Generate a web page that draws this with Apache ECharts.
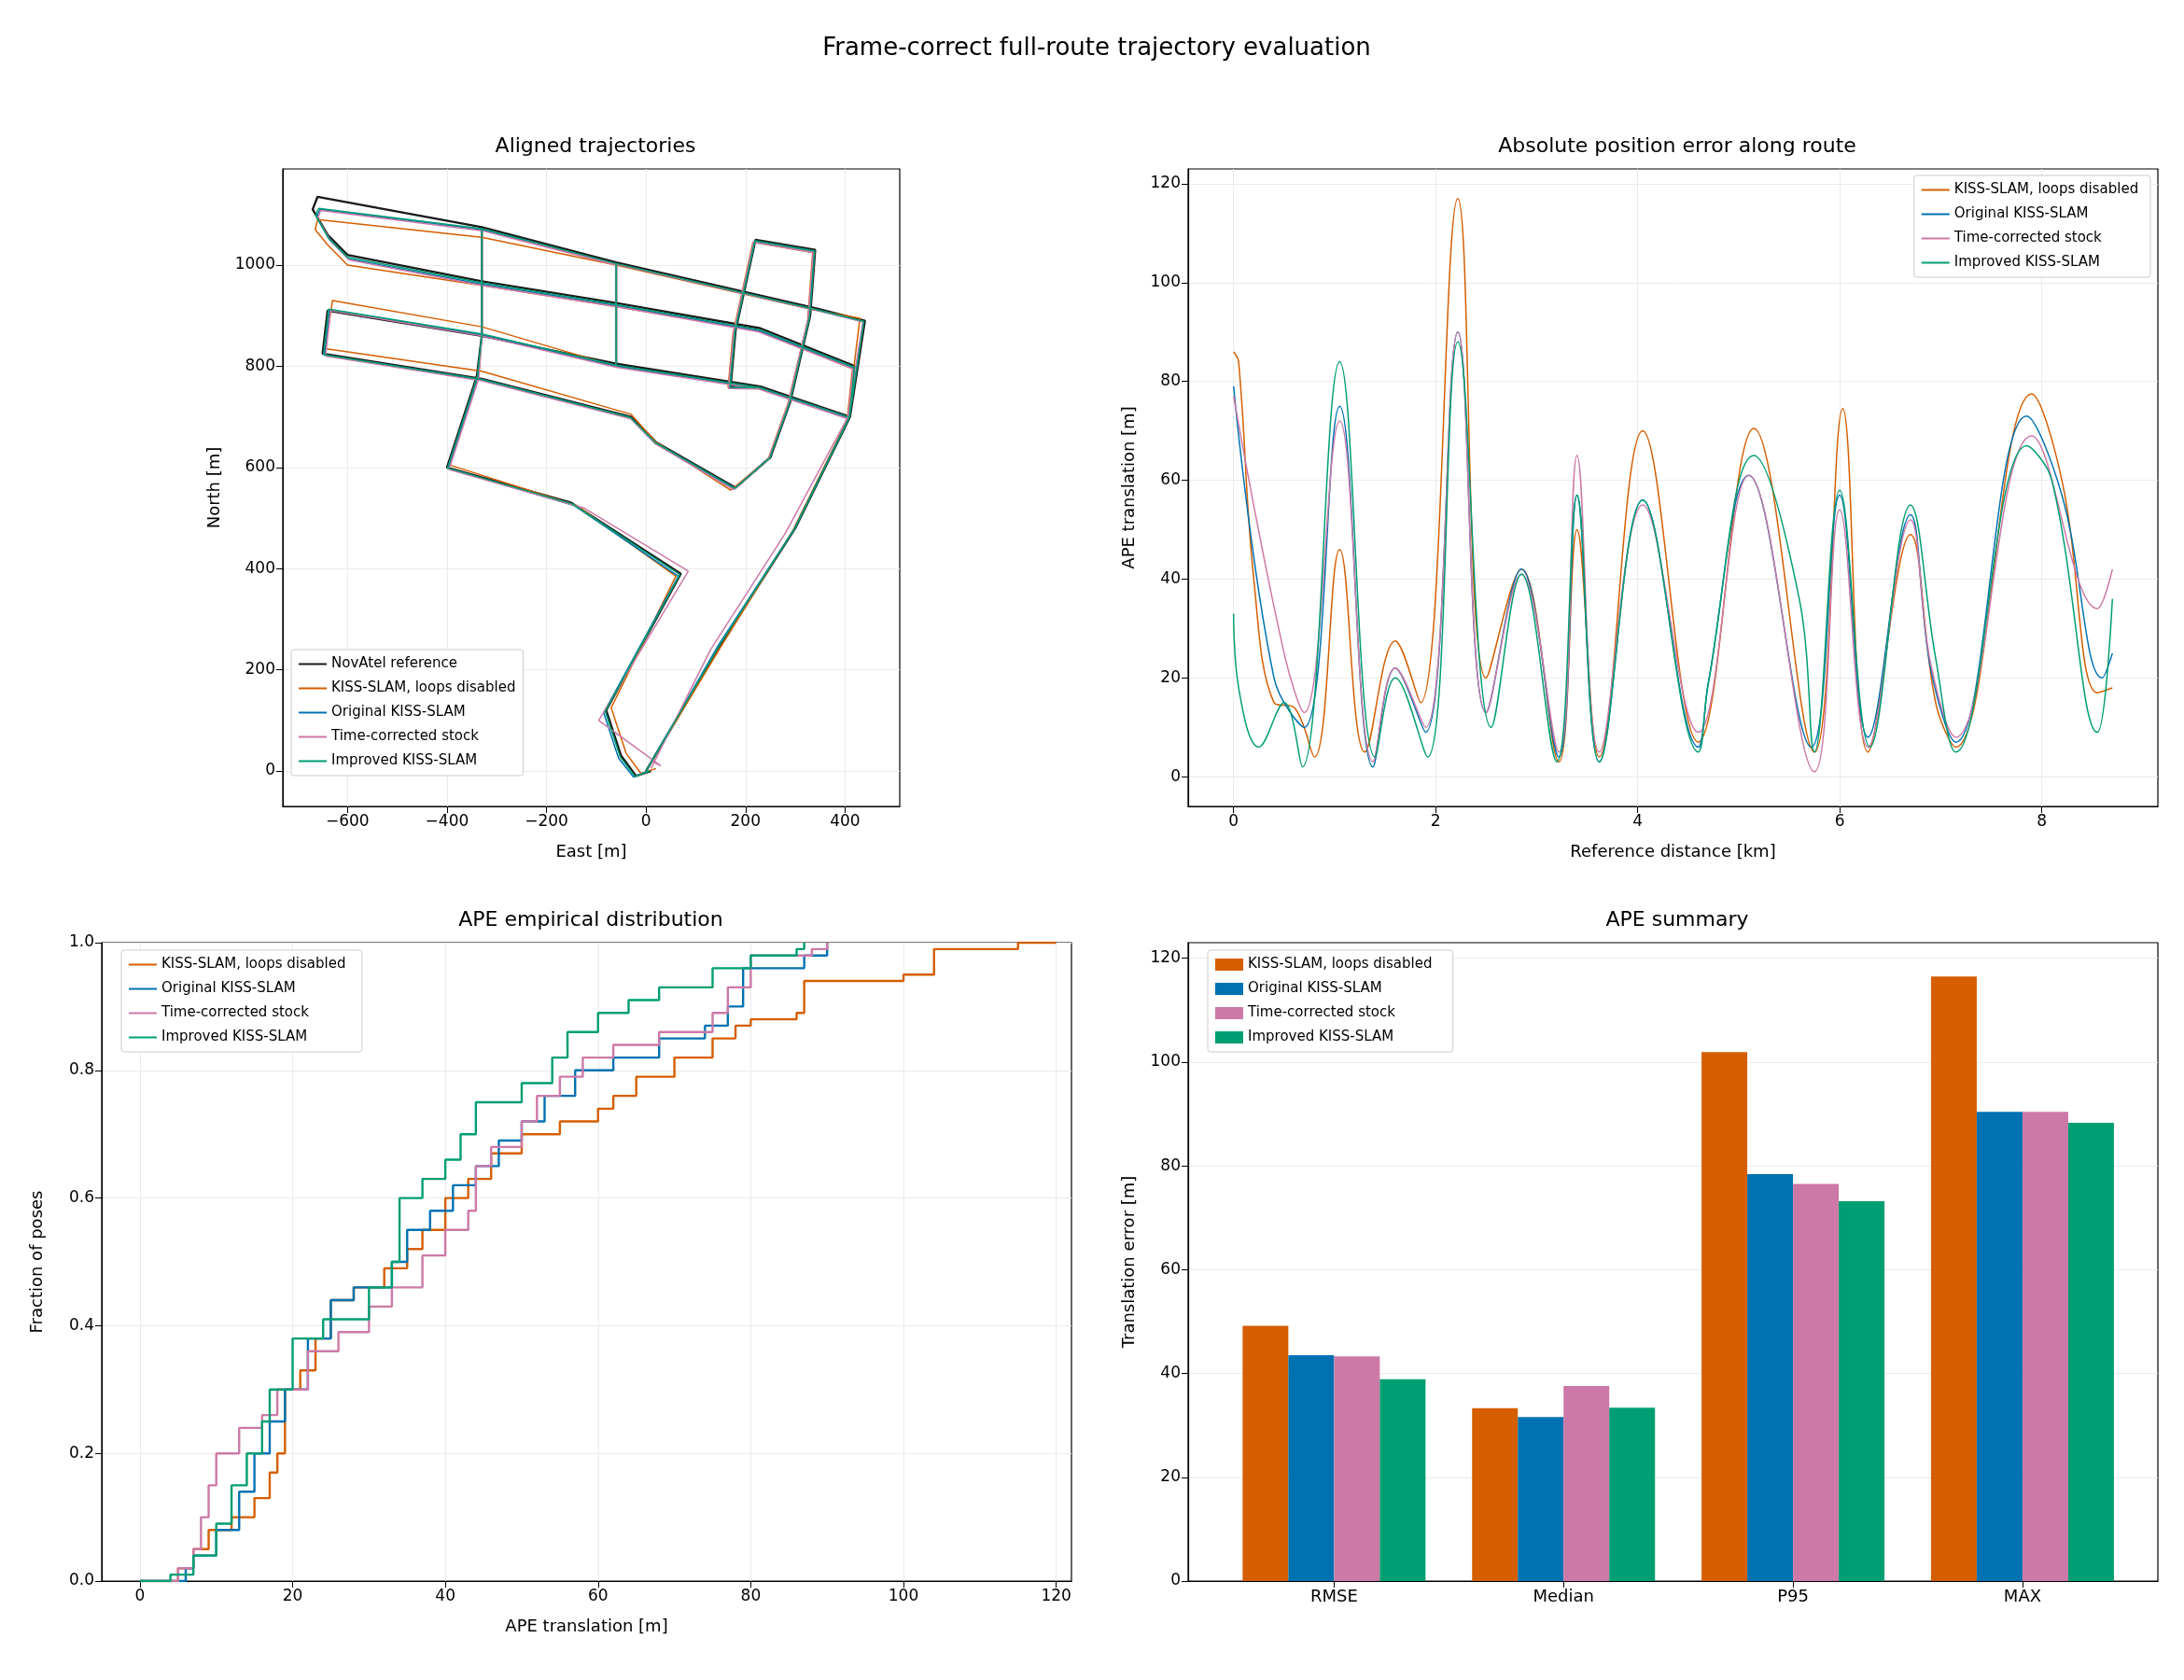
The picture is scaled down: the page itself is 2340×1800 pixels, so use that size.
<!DOCTYPE html>
<html><head><meta charset="utf-8">
<script src="https://cdn.jsdelivr.net/npm/echarts@6/dist/echarts.min.js"></script>
<style>html,body{margin:0;padding:0;background:#fff}#c{width:2340px;height:1800px}</style>
</head><body><div id="c"></div>
<script>
const names = ["KISS-SLAM, loops disabled","Original KISS-SLAM","Time-corrected stock","Improved KISS-SLAM"];
const colors = ["#d55e00","#0072b2","#cc79a7","#009e73"];
const refName = "NovAtel reference";

// Aligned trajectories [east, north] in m
const trajRef = [[0,0],[150,250],[300,480],[410,700],[440,890],[340,915],[-60,1005],[-330,1075],[-660,1135],[-670,1110],[-640,1060],[-600,1020],[-330,968],[-60,925],[230,875],[420,800],[410,700],[230,760],[-60,805],[-330,860],[-640,910],[-650,825],[-330,775],[-30,700],[20,650],[180,560],[250,620],[290,730],[330,900],[340,1030],[220,1050],[180,870],[170,760],[230,760],[-60,805],[-60,1005],[-330,1075],[-330,860],[-340,780],[-400,600],[-150,530],[70,390],[-80,120],[-50,30],[-20,-10],[10,0]];
const trajLoops = [[0,0],[150,245],[295,475],[405,695],[430,895],[335,912],[-60,1000],[-330,1055],[-660,1090],[-665,1070],[-640,1040],[-600,1000],[-330,960],[-60,918],[225,870],[415,795],[405,700],[225,758],[-60,800],[-330,878],[-630,930],[-645,835],[-330,790],[-30,705],[20,650],[170,555],[245,615],[285,725],[325,890],[335,1025],[215,1045],[175,865],[165,758],[225,758],[-60,800],[-60,1000],[-330,1055],[-330,870],[-335,790],[-395,605],[-140,525],[60,385],[-70,125],[-40,35],[-10,-5],[20,5]];
const trajOrig = [[0,0],[145,248],[298,478],[408,698],[437,888],[338,912],[-60,1002],[-330,1070],[-655,1110],[-662,1095],[-636,1050],[-598,1012],[-330,962],[-60,920],[228,870],[418,797],[408,698],[228,757],[-60,800],[-330,862],[-636,912],[-646,822],[-330,773],[-32,698],[18,648],[178,558],[248,618],[288,728],[328,897],[338,1027],[218,1047],[178,868],[168,758],[228,757],[-60,800],[-60,1002],[-330,1070],[-330,860],[-338,778],[-398,598],[-145,525],[65,385],[-85,115],[-55,25],[-25,-12],[5,0]];
const trajTime = [[10,5],[130,240],[280,470],[405,698],[436,888],[338,912],[-60,1002],[-330,1068],[-654,1108],[-660,1092],[-634,1048],[-596,1010],[-330,960],[-60,918],[226,868],[416,795],[406,696],[226,755],[-60,798],[-330,860],[-634,910],[-644,820],[-330,771],[-30,696],[20,646],[176,556],[246,616],[286,726],[326,895],[336,1025],[216,1045],[176,866],[166,756],[226,755],[-60,798],[-60,1000],[-330,1068],[-330,858],[-336,776],[-396,596],[-125,520],[85,395],[-95,100],[30,10],[10,20],[30,10]];
const trajImp = [[0,0],[148,249],[299,479],[409,699],[438,889],[339,913],[-60,1003],[-330,1072],[-658,1112],[-664,1098],[-638,1053],[-599,1015],[-330,965],[-60,922],[229,872],[419,798],[409,699],[229,758],[-60,802],[-330,864],[-638,913],[-648,823],[-330,774],[-31,699],[19,649],[179,559],[249,619],[289,729],[329,898],[339,1028],[219,1048],[179,869],[169,759],[229,758],[-60,802],[-60,1003],[-330,1072],[-330,862],[-339,779],[-399,599],[-148,528],[68,388],[-82,118],[-52,28],[-22,-11],[8,0]];

// APE along route [km, m]
const apeLoops = [[0,86],[0.05,84],[0.2,40],[0.4,15],[0.6,14],[0.8,4],[1.05,46],[1.3,5],[1.6,27.5],[1.85,15],[2.22,117],[2.5,20],[2.85,42],[3.22,3],[3.4,50],[3.62,4],[4.05,70],[4.6,7],[5.15,70.5],[5.75,5],[6.03,74.5],[6.28,5],[6.7,49],[6.95,15],[7.15,6],[7.9,77.5],[8.2,60],[8.55,17],[8.7,18]];
const apeOrig = [[0,79],[0.4,20],[0.7,10],[1.05,75],[1.38,2],[1.6,22],[1.9,9],[2.22,90],[2.5,13],[2.85,42],[3.22,4],[3.4,57],[3.62,3],[4.05,56],[4.6,6],[4.7,19],[5.1,61],[5.72,6],[6.0,57],[6.28,8],[6.7,53],[6.9,22],[7.15,7],[7.85,73],[8.2,57],[8.6,20],[8.7,25]];
const apeTime = [[0,77],[0.5,25],[0.7,13],[1.05,72],[1.38,3],[1.6,22],[1.9,10],[2.22,90],[2.5,13],[2.85,41],[3.22,5],[3.4,65],[3.62,5],[4.05,55],[4.6,9],[5.1,61],[5.75,1],[6.0,54],[6.28,6],[6.7,52],[6.9,23],[7.15,8],[7.9,69],[8.55,34],[8.7,42]];
const apeImp = [[0,33],[0.05,18],[0.25,6],[0.5,15],[0.68,2],[1.05,84],[1.4,4],[1.6,20],[1.92,4],[2.22,88],[2.55,10],[2.85,41],[3.2,3],[3.4,57],[3.62,3],[4.05,56],[4.6,5],[4.7,19],[5.15,65],[5.6,36],[5.75,5],[6.0,58],[6.3,6],[6.7,55],[6.95,24],[7.15,5],[7.85,67],[8.1,60],[8.55,9],[8.7,36]];

// Empirical distribution [m, fraction]
const cdfLoops = [[0,0],[5,0.02],[7,0.05],[9,0.08],[12,0.1],[15,0.13],[17,0.17],[18,0.2],[19,0.3],[21,0.33],[23,0.38],[25,0.44],[28,0.46],[32,0.49],[35,0.52],[37,0.55],[40,0.6],[43,0.63],[46,0.67],[50,0.7],[55,0.72],[60,0.74],[62,0.76],[65,0.79],[70,0.82],[75,0.85],[78,0.87],[80,0.88],[86,0.89],[87,0.94],[100,0.95],[104,0.99],[115,1.0],[120,1.0]];
const cdfOrig = [[0,0],[6,0.02],[7,0.04],[10,0.08],[13,0.14],[15,0.2],[17,0.25],[19,0.3],[22,0.38],[25,0.44],[28,0.46],[33,0.5],[35,0.55],[38,0.58],[41,0.62],[44,0.65],[47,0.69],[50,0.72],[53,0.76],[57,0.8],[62,0.82],[68,0.85],[74,0.87],[77,0.9],[79,0.96],[87,0.98],[90,1.0]];
const cdfTime = [[0,0],[5,0.02],[7,0.05],[8,0.1],[9,0.15],[10,0.2],[13,0.24],[16,0.26],[18,0.3],[22,0.36],[26,0.39],[30,0.43],[33,0.46],[37,0.51],[40,0.55],[43,0.58],[44,0.65],[46,0.68],[50,0.72],[52,0.76],[55,0.79],[58,0.82],[62,0.84],[68,0.86],[75,0.89],[77,0.93],[80,0.98],[88,0.99],[90,1.0]];
const cdfImp = [[0,0],[4,0.01],[7,0.04],[10,0.09],[12,0.15],[14,0.2],[16,0.25],[17,0.3],[20,0.38],[24,0.41],[30,0.46],[33,0.5],[34,0.6],[37,0.63],[40,0.66],[42,0.7],[44,0.75],[50,0.78],[54,0.82],[56,0.86],[60,0.89],[64,0.91],[68,0.93],[75,0.96],[80,0.98],[86,0.99],[87,1.0]];

// Summary
const statCats = ["RMSE","Median","P95","MAX"];
const statLoops = [49.2,33.3,101.9,116.5];
const statOrig = [43.5,31.6,78.4,90.4];
const statTime = [43.3,37.6,76.5,90.4];
const statImp = [38.9,33.4,73.2,88.3];

const trajs=[trajLoops,trajOrig,trajTime,trajImp], apes=[apeLoops,apeOrig,apeTime,apeImp], cdfs=[cdfLoops,cdfOrig,cdfTime,cdfImp], stats=[statLoops,statOrig,statTime,statImp];

const F = "DejaVu Sans";
const fmt = v => String(v).replace("-","\u2212");
const lbl = {color:"#000",fontSize:17,fontFamily:F,margin:8,formatter:fmt};
const tick = {show:true,inside:false,length:7,lineStyle:{color:"#000"}};
const line = {show:true,onZero:false,lineStyle:{color:"#000",width:1.2}};
const split = {show:true,lineStyle:{color:"#ebebeb",width:1}};
const nameSt = {color:"#000",fontSize:18,fontFamily:F};
function vaxis(o){
  const a = Object.assign({type:"value",axisLine:line,axisTick:tick,splitLine:split,nameLocation:"middle",nameTextStyle:nameSt}, o);
  a.axisLabel = Object.assign({}, lbl, o.axisLabel||{});
  return a;
}
function cv(arr){return {axisLabel:Object.assign({},lbl,{customValues:arr}),axisTick:Object.assign({},tick,{customValues:arr})};}
const lineIcon = "path://M0,0L30,0L30,2L0,2Z";
function legend(o,icon){
  return Object.assign({orient:"vertical",backgroundColor:"#fff",borderColor:"#cccccc",borderWidth:1,borderRadius:3,padding:[8,8,8,8],itemGap:11,itemWidth:30,itemHeight:icon?13:2,icon:icon||lineIcon,textStyle:{fontSize:15,fontFamily:F,color:"#000"}},o);
}
const sfx=[""," ","  ","   "];

const grids=[{left:303,top:181,width:661,height:683},{left:1273,top:181,width:1039,height:683},{left:109,top:1010,width:1039,height:684},{left:1273,top:1010,width:1039,height:684}];
grids.forEach(g=>{g.show=true;g.borderColor="#000";g.borderWidth=1.2;});

const x1t=[-600,-400,-200,0,200,400], y1t=[0,200,400,600,800,1000];
const xAxis=[
  vaxis({gridIndex:0,min:-730,max:510,name:"East [m]",nameGap:40,...cv(x1t)}),
  vaxis({gridIndex:1,min:-0.45,max:9.15,name:"Reference distance [km]",nameGap:40,...cv([0,2,4,6,8])}),
  vaxis({gridIndex:2,min:-5,max:122,name:"APE translation [m]",nameGap:40,...cv([0,20,40,60,80,100,120])}),
  vaxis({gridIndex:3,min:-0.636,max:3.59,splitLine:{show:false},
    axisLabel:Object.assign({},lbl,{fontSize:18,customValues:[0,1,2,3],formatter:v=>statCats[Math.round(v)]}),
    axisTick:Object.assign({},tick,{customValues:[0,1,2,3]})})
];
const yAxis=[
  vaxis({gridIndex:0,min:-70,max:1190,name:"North [m]",nameGap:64,...cv(y1t)}),
  vaxis({gridIndex:1,min:-6,max:123,name:"APE translation [m]",nameGap:54,...cv([0,20,40,60,80,100,120])}),
  vaxis({gridIndex:2,min:0,max:1,interval:0.2,name:"Fraction of poses",nameGap:60,axisLabel:{formatter:v=>v.toFixed(1)}}),
  vaxis({gridIndex:3,min:0,max:123,name:"Translation error [m]",nameGap:54,...cv([0,20,40,60,80,100,120])})
];

const series=[];
series.push({name:refName,type:"line",xAxisIndex:0,yAxisIndex:0,data:trajRef,symbol:"none",lineStyle:{color:"#1a1a1a",width:2.4},itemStyle:{color:"#1a1a1a"},z:1});
for(let i=0;i<4;i++){
  series.push({name:names[i],type:"line",xAxisIndex:0,yAxisIndex:0,data:trajs[i],symbol:"none",lineStyle:{color:colors[i],width:1.5},itemStyle:{color:colors[i]},z:2+i});
  series.push({name:names[i]+sfx[1],type:"line",xAxisIndex:1,yAxisIndex:1,data:apes[i],smooth:0.4,symbol:"none",lineStyle:{color:colors[i],width:1.5},itemStyle:{color:colors[i]}});
  series.push({name:names[i]+sfx[2],type:"line",xAxisIndex:2,yAxisIndex:2,data:cdfs[i],step:"end",symbol:"none",lineStyle:{color:colors[i],width:2.4},itemStyle:{color:colors[i]}});
  series.push({name:names[i]+sfx[3],type:"bar",xAxisIndex:3,yAxisIndex:3,data:stats[i].map((v,k)=>[k,v]),barWidth:49,barGap:"0%",itemStyle:{color:colors[i]}});
}

const chart=echarts.init(document.getElementById("c"),null,{renderer:"canvas"});
const tt = {fontSize:22,fontWeight:"normal",fontFamily:F,color:"#000"};
chart.setOption({
  backgroundColor:"#fff",animation:false,
  title:[
    {text:"Frame-correct full-route trajectory evaluation",left:1170,top:34,textAlign:"center",textStyle:{fontSize:26,fontWeight:"normal",fontFamily:F,color:"#000"}},
    {text:"Aligned trajectories",left:633,top:141,textAlign:"center",textStyle:tt},
    {text:"Absolute position error along route",left:1792,top:141,textAlign:"center",textStyle:tt},
    {text:"APE empirical distribution",left:628,top:970,textAlign:"center",textStyle:tt},
    {text:"APE summary",left:1792,top:970,textAlign:"center",textStyle:tt}
  ],
  grid:grids,xAxis,yAxis,series,
  legend:[
    legend({left:312,top:696,data:[refName].concat(names)}),
    legend({right:36,top:188,data:names.map(n=>n+sfx[1])}),
    legend({left:130,top:1018,data:names.map(n=>n+sfx[2])}),
    legend({left:1294,top:1018,data:names.map(n=>n+sfx[3])},"rect")
  ]
});
</script></body></html>
